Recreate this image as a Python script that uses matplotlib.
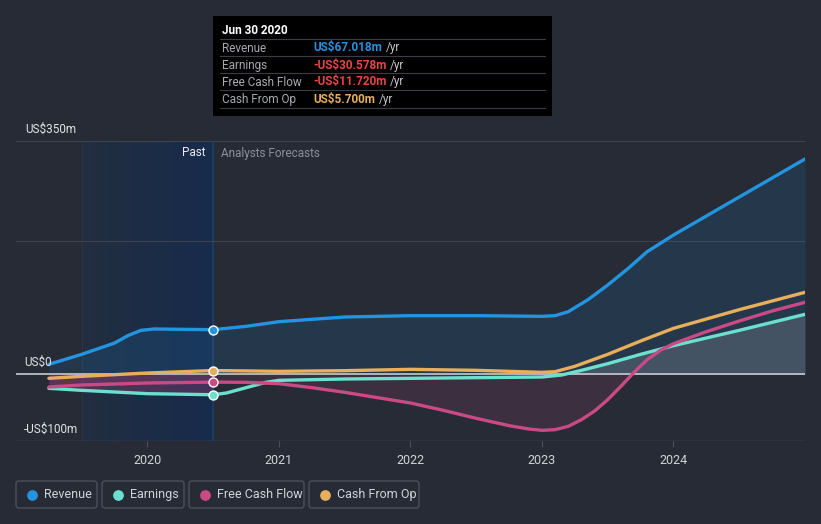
import numpy as np
import matplotlib.pyplot as plt
from matplotlib.patches import Rectangle, FancyBboxPatch
from matplotlib.colors import LinearSegmentedColormap

# data (US$m, x in decimal years)
rev_x = [2019.25, 2019.5, 2019.75, 2019.85, 2019.95, 2020.05, 2020.5, 2020.75, 2021.0, 2021.5, 2022.0, 2022.5, 2023.0, 2023.1, 2023.2, 2023.35, 2023.5, 2023.65, 2023.8, 2024.0, 2024.5, 2025.0]
rev_y = [15, 30, 47, 58, 66, 68, 67, 72, 79, 86, 88, 88, 87, 88, 94, 112, 134, 158, 184, 209, 266, 323]

earn_x = [2019.25, 2019.5, 2020.0, 2020.5, 2020.6, 2020.75, 2020.9, 2021.0, 2021.5, 2022.0, 2022.5, 2023.0, 2023.15, 2023.3, 2023.5, 2023.75, 2024.0, 2024.5, 2025.0]
earn_y = [-21, -24, -29, -30.6, -28, -20, -12, -9, -7, -6, -5, -4, -1, 6, 16, 30, 43, 66, 90]

fcf_x = [2019.25, 2019.5, 2020.0, 2020.5, 2020.75, 2021.0, 2021.25, 2021.5, 2021.75, 2022.0, 2022.25, 2022.5, 2022.75, 2022.9, 2023.0, 2023.1, 2023.2, 2023.3, 2023.4, 2023.5, 2023.6, 2023.7, 2023.8, 2023.9, 2024.0, 2024.25, 2024.5, 2024.75, 2025.0]
fcf_y = [-19, -16, -13, -11.7, -12, -14, -20, -27, -35, -43, -54, -66, -77, -82, -84, -83, -78, -68, -55, -38, -18, 3, 22, 36, 46, 64, 80, 95, 108]

cfo_x = [2019.25, 2019.5, 2020.0, 2020.5, 2021.0, 2021.5, 2022.0, 2022.5, 2023.0, 2023.1, 2023.25, 2023.5, 2023.75, 2024.0, 2024.5, 2025.0]
cfo_y = [-6, -3, 2, 5.7, 4.5, 5.5, 7.5, 6, 3, 4, 12, 30, 50, 69, 97, 123]

years = [2020, 2021, 2022, 2023, 2024]
series = ["Revenue", "Earnings", "Free Cash Flow", "Cash From Op"]
colors = ["#2394df", "#6ce0cf", "#c94a85", "#e8ae5b"]
tip_vals = ["US$67.018m", "-US$30.578m", "-US$11.720m", "US$5.700m"]
tip_cols = ["#2394df", "#e84545", "#e84545", "#e8ae5b"]

bg = "#262b36"
plt.rcParams['font.family'] = ['Roboto', 'DejaVu Sans']

fig = plt.figure(figsize=(8.21, 5.24), dpi=100, facecolor=bg)
W, H = 821, 524
ax = fig.add_axes([16 / W, (H - 441) / H, (805 - 16) / W, 300 / H])
ax.set_facecolor(bg)
ax.set_xlim(2019.0, 2025.0)
ax.set_ylim(-100, 350)
for s in ax.spines.values():
    s.set_visible(False)
ax.set_yticks([])
ax.set_xticks(years)
ax.set_xticklabels([str(y) for y in years], color="#d0d3d9", fontsize=9)
ax.tick_params(axis='x', length=4, color="#4a505c", pad=5)

# past shading with horizontal gradient
grad = np.linspace(0, 1, 256).reshape(1, -1)
cm = LinearSegmentedColormap.from_list("past", ["#222e40", "#172b4c"])
ax.imshow(grad, cmap=cm, extent=[2019.5, 2020.5, -100, 350], aspect='auto', zorder=0)
ax.axvline(2019.5, color="#2a3546", lw=0.8, zorder=0.5)
ax.axvline(2020.5, color="#1f3f66", lw=1.2, zorder=0.5)

# grid
for g in [200, 350]:
    ax.axhline(g, color="#3d434f", lw=0.8, zorder=0.6)
ax.axhline(-100, color="#4a505c", lw=1, zorder=0.6)

# fills
ax.fill_between(rev_x, rev_y, 0, color="#2394df", alpha=0.13, lw=0, zorder=1)
ax.fill_between(earn_x, earn_y, 0, where=np.array(earn_y) >= 0, interpolate=True, color="#b0b4bc", alpha=0.22, lw=0, zorder=1.1)
ax.fill_between(fcf_x, fcf_y, 0, where=np.array(fcf_y) <= 0, interpolate=True, color="#c94a85", alpha=0.13, lw=0, zorder=1.1)
ax.fill_between(earn_x, earn_y, 0, where=np.array(earn_x) <= 2020.5, color="#c94a85", alpha=0.25, lw=0, zorder=1.1)

ax.axhline(0, color="#c8cace", lw=1.2, zorder=2)

data = [(rev_x, rev_y), (earn_x, earn_y), (fcf_x, fcf_y), (cfo_x, cfo_y)]
for i in [1, 2, 3, 0]:
    xs, ys = data[i]
    ax.plot(xs, ys, color=colors[i], lw=2.4, solid_capstyle='round', solid_joinstyle='round', zorder=3)
    yv = np.interp(2020.5, xs, ys)
    ax.scatter([2020.5], [yv], s=42, color=colors[i], edgecolor="white", linewidth=1, zorder=4)

# axis value labels
fig.text(25 / W, 1 - 129 / H, "US$350m", color="#e0e2e6", fontsize=8.5, va='center')
fig.text(24 / W, 1 - 362 / H, "US$0", color="#e0e2e6", fontsize=8.5, va='center')
fig.text(24 / W, 1 - 429 / H, "-US$100m", color="#e0e2e6", fontsize=8.5, va='center')
fig.text(205 / W, 1 - 153 / H, "Past", color="#e8eaee", fontsize=8.5, va='center', ha='right')
fig.text(221 / W, 1 - 153 / H, "Analysts Forecasts", color="#8a8f99", fontsize=8.5, va='center')

# tooltip
tax = fig.add_axes([0, 0, 1, 1], facecolor='none')
tax.set_xlim(0, W)
tax.set_ylim(H, 0)
tax.axis('off')
tax.add_patch(Rectangle((213, 16), 339, 100, facecolor="#000000", edgecolor='none'))
tax.text(222, 31, "Jun 30 2020", color="white", fontsize=8.5, fontweight='bold', va='center')
for k in range(4):
    yy = 48 + 17 * k
    tax.plot([220, 545], [yy - 9, yy - 9], color="#3a3d44", lw=0.8)
    tax.text(222, yy, series[k], color="#a6a9b0", fontsize=8.5, va='center')
    t = tax.text(313, yy, tip_vals[k], color=tip_cols[k], fontsize=8.5, fontweight='bold', va='center')
    fig.canvas.draw()
    bb = t.get_window_extent()
    tax.text(313 + bb.width + 4, yy, "/yr", color="#c0c3c9", fontsize=8.5, va='center')
tax.plot([220, 545], [108, 108], color="#3a3d44", lw=0.8)

# legend buttons
btns = [(16, 97), (102, 184), (189, 304), (309, 419)]
for k, (x0, x1) in enumerate(btns):
    tax.add_patch(FancyBboxPatch((x0, 481), x1 - x0, 27, boxstyle="round,pad=0,rounding_size=3",
                                 facecolor='none', edgecolor="#4a505c", lw=1))
    tax.scatter([x0 + 16], [494.5], s=45, color=colors[k])
    tax.text(x0 + 28, 494.5, series[k], color="#d0d3d9", fontsize=9, va='center')

fig.savefig("out.png", dpi=100, facecolor=bg)
